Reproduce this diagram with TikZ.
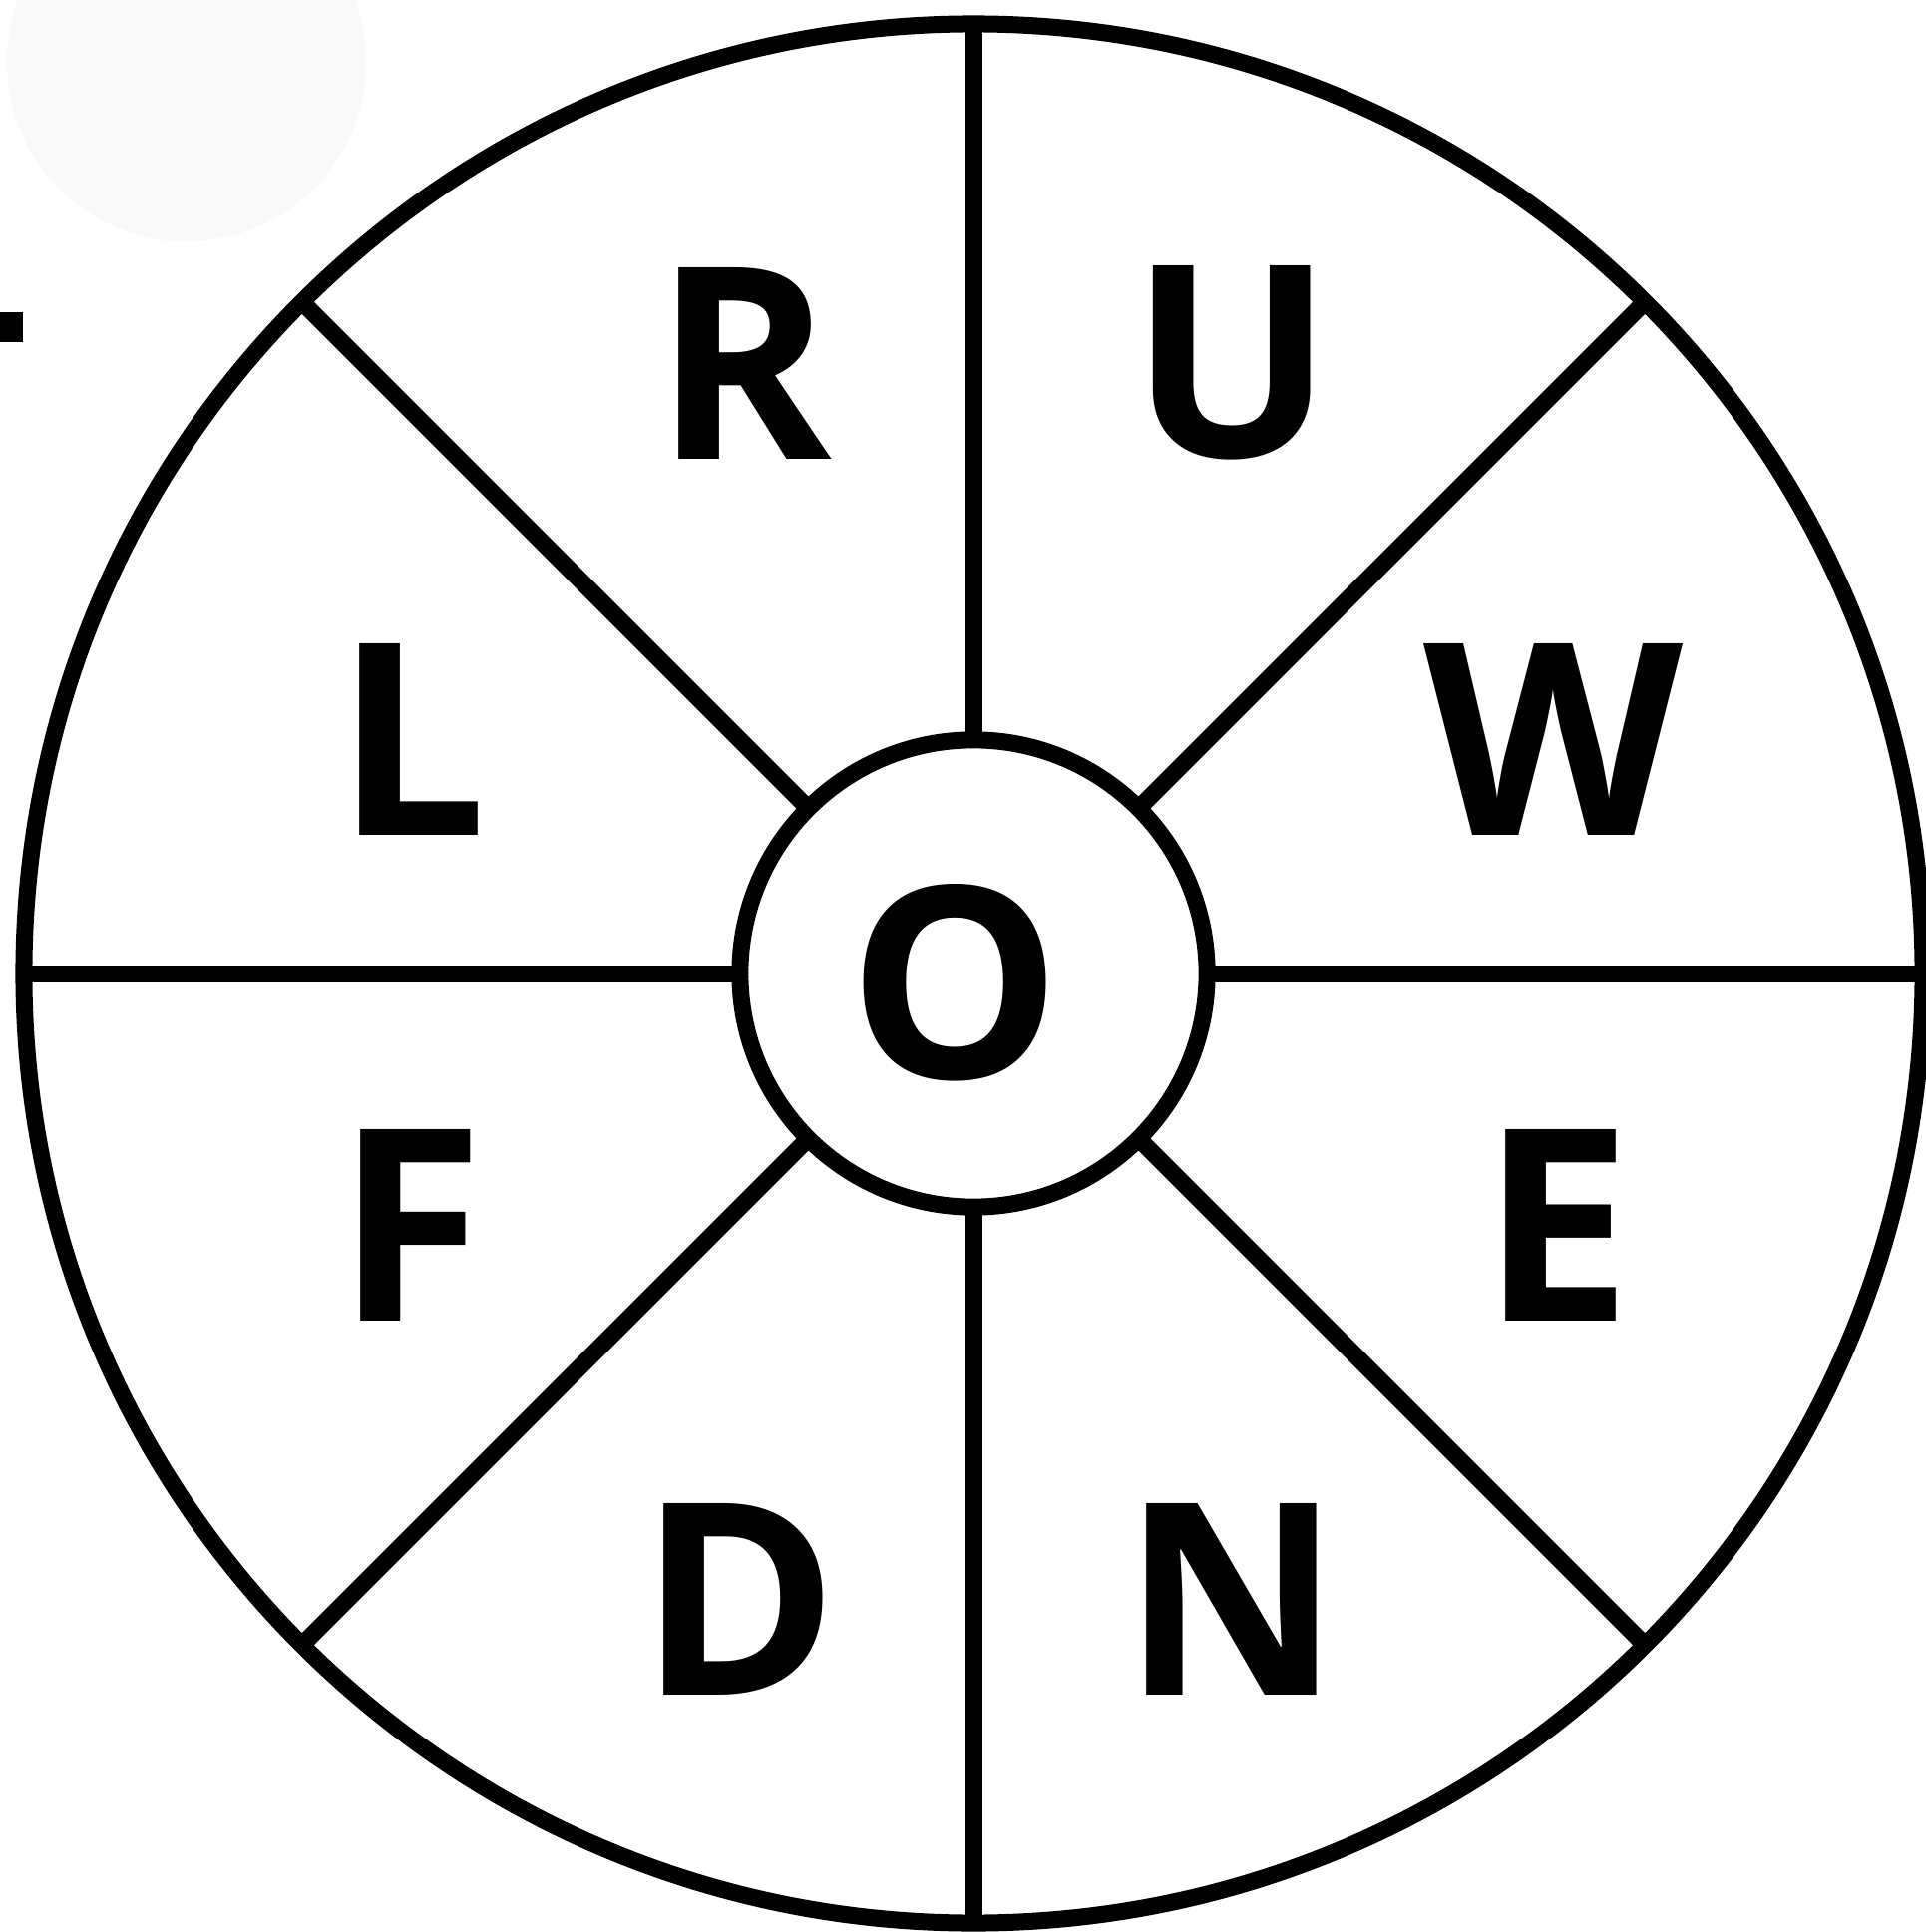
\documentclass[tikz,border=0pt]{standalone}
\usepackage{fontspec}
\setmainfont{Open Sans}
\definecolor{ghost}{HTML}{F9F9F9}
\tikzset{
  ring/.style={circle, draw=black, line width=0.17cm, inner sep=0pt, outer sep=0pt},
  spoke/.style={draw=black, line width=0.17cm},
  lett/.style={inner sep=0pt, font=\fontsize{76.5}{80}\selectfont\bfseries}
}
\begin{document}
\begin{tikzpicture}[x=0.01cm, y=-0.01cm]
\useasboundingbox (0,0) rectangle (1931,1937);
\clip (0,0) rectangle (1931,1937);
\fill[ghost] (187,62) circle[radius=1.8cm];
\fill[black] (0,313) rectangle (23,343);
\node[ring, minimum size=19.03cm] (outer) at (976,976) {};
\node[ring, minimum size=4.68cm] (inner) at (976,976) {};
\foreach \a in {0,45,...,315}{
  \draw[spoke] (inner.\a) -- (outer.\a);
}
\node[lett] (r) at (745,364) {R};
\node[lett] (u) at (1235,364) {U};
\node[lett] (l) at (412,741) {L};
\node[lett] (w) at (1558,741) {W};
\node[lett] (o) at (958,985) {O};
\node[lett] (f) at (411,1228) {F};
\node[lett] (e) at (1561,1228) {E};
\node[lett] (d) at (741,1603) {D};
\node[lett] (n) at (1235,1603) {N};
\end{tikzpicture}
\end{document}
